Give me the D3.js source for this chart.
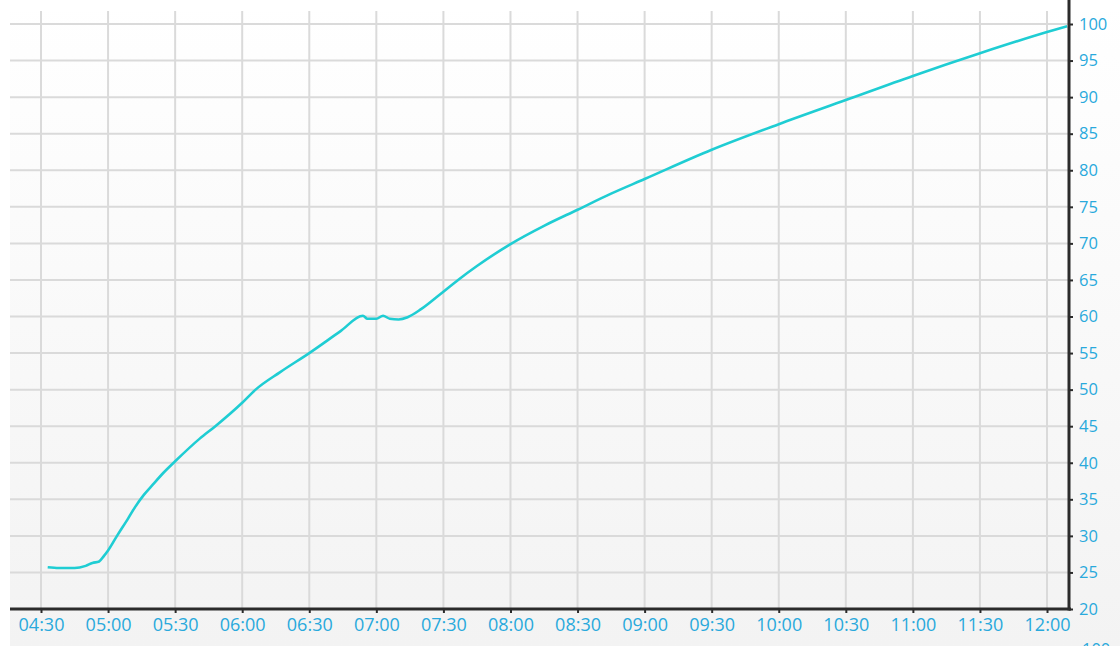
<!DOCTYPE html>
<html>
<head>
<meta charset="utf-8">
<script src="https://cdn.jsdelivr.net/npm/d3@7"></script>
<style>
html,body{margin:0;padding:0;background:#fff;overflow:hidden;}
svg{display:block;}
</style>
</head>
<body>
<svg id="chart" width="1120" height="646"></svg>
<script>
// ---- data ----
const times = ["04:33","04:38","04:45","04:50","04:53","04:56","04:58","05:00","05:04","05:09","05:12","05:16","05:20","05:25","05:30","05:41","05:48","06:00","06:06","06:17","06:30","06:44","06:54","06:56","07:00","07:03","07:06","07:10","07:14","07:20","07:28","07:37","07:45","08:00","08:15","08:30","08:45","09:00","09:30","10:00","10:30","11:00","11:30","12:00","12:09"];
const values = [25.7,25.6,25.6,25.9,26.3,26.5,27.2,28.0,30.0,32.4,33.9,35.6,37.0,38.7,40.2,43.3,45.0,48.2,50.0,52.4,55.0,58.0,60.1,59.7,59.7,60.1,59.7,59.6,59.9,61.0,62.9,65.1,66.9,69.9,72.4,74.6,76.8,78.8,82.8,86.3,89.6,92.9,96.0,98.9,99.7];
const xTickLabels = ["04:30","05:00","05:30","06:00","06:30","07:00","07:30","08:00","08:30","09:00","09:30","10:00","10:30","11:00","11:30","12:00"];
const yTickValues = [20,25,30,35,40,45,50,55,60,65,70,75,80,85,90,95,100];
const extraLabel = "100";

(function(){
const parse = d3.timeParse("%H:%M");
const parseS = d3.timeParse("%H:%M:%S");
const data = times.map((t,i)=>({t:parse(t), v:values[i]}));

const svg = d3.select("#chart");
const pL = 10, pR = 1069, pT = 11, pB = 609;

const x = d3.scaleTime()
  .domain([parseS("04:16:08"), parseS("12:09:50")])
  .range([pL, pR]);
const y = d3.scaleLinear()
  .domain([20, 20 + (pB - pT) / 7.3125])
  .range([pB, pT]);

// background
const defs = svg.append("defs");
const g1 = defs.append("linearGradient").attr("id","bg").attr("x1",0).attr("y1",0).attr("x2",0).attr("y2",1);
g1.append("stop").attr("offset","0%").attr("stop-color","#ffffff");
g1.append("stop").attr("offset","100%").attr("stop-color","#f3f3f3");
svg.append("rect").attr("x",pL).attr("y",0).attr("width",1120-pL).attr("height",646).attr("fill","url(#bg)");
svg.append("rect").attr("x",pL).attr("y",0).attr("width",1120-pL).attr("height",pT).attr("fill","#ffffff");

const clip = defs.append("clipPath").attr("id","plotclip");
clip.append("rect").attr("x",pL).attr("y",pT).attr("width",pR-pL).attr("height",pB-pT);

const xTicks = xTickLabels.map(s=>parse(s));

// grid
const grid = svg.append("g");
grid.selectAll("line.v").data(xTicks).join("line")
  .attr("x1",d=>x(d)).attr("x2",d=>x(d))
  .attr("y1",pT).attr("y2",pB)
  .attr("stroke","#dadada").attr("stroke-width",2);
grid.selectAll("line.h").data(yTickValues.filter(v=>v>20)).join("line")
  .attr("x1",pL).attr("x2",pR)
  .attr("y1",d=>y(d)).attr("y2",d=>y(d))
  .attr("stroke","#dadada").attr("stroke-width",2);

// line
const line = d3.line().x(d=>x(d.t)).y(d=>y(d.v)).curve(d3.curveMonotoneX);
svg.append("path").datum(data)
  .attr("clip-path","url(#plotclip)")
  .attr("fill","none")
  .attr("stroke","#1fcdd3")
  .attr("stroke-width",2.6)
  .attr("stroke-linejoin","round")
  .attr("d",line);

const labelColor = "#29a9dc";
const font = "'Open Sans', 'Noto Sans', sans-serif";

// x axis
const xAxis = d3.axisBottom(x).tickValues(xTicks).tickFormat(d3.timeFormat("%H:%M")).tickSize(4).tickPadding(5).tickSizeOuter(0);
const gx = svg.append("g").attr("transform",`translate(0,${pB})`).call(xAxis);
gx.select(".domain").remove();
gx.selectAll(".tick line").attr("stroke","#2b2b2b").attr("stroke-width",2);
gx.selectAll(".tick text").attr("fill",labelColor).style("font-family",font).style("font-size","18px");
svg.append("line").attr("x1",pL).attr("x2",pR+2).attr("y1",pB).attr("y2",pB)
  .attr("stroke","#2b2b2b").attr("stroke-width",3);

// y axis (right)
const yAxis = d3.axisRight(y).tickValues(yTickValues).tickSize(4).tickPadding(6).tickSizeOuter(0);
const gy = svg.append("g").attr("transform",`translate(${pR},0)`).call(yAxis);
gy.select(".domain").remove();
gy.selectAll(".tick line").attr("stroke","#2b2b2b").attr("stroke-width",2);
gy.selectAll(".tick text").attr("fill",labelColor).style("font-family",font).style("font-size","16.5px");
svg.append("line").attr("x1",pR).attr("x2",pR).attr("y1",0).attr("y2",pB+1.5)
  .attr("stroke","#2b2b2b").attr("stroke-width",3);

// partially visible label at bottom right (cut off in the reference too)
svg.append("text").attr("x",pR+13).attr("y",655)
  .attr("fill",labelColor).style("font-family",font).style("font-size","16.5px")
  .text(extraLabel);
})();
</script>
</body>
</html>
